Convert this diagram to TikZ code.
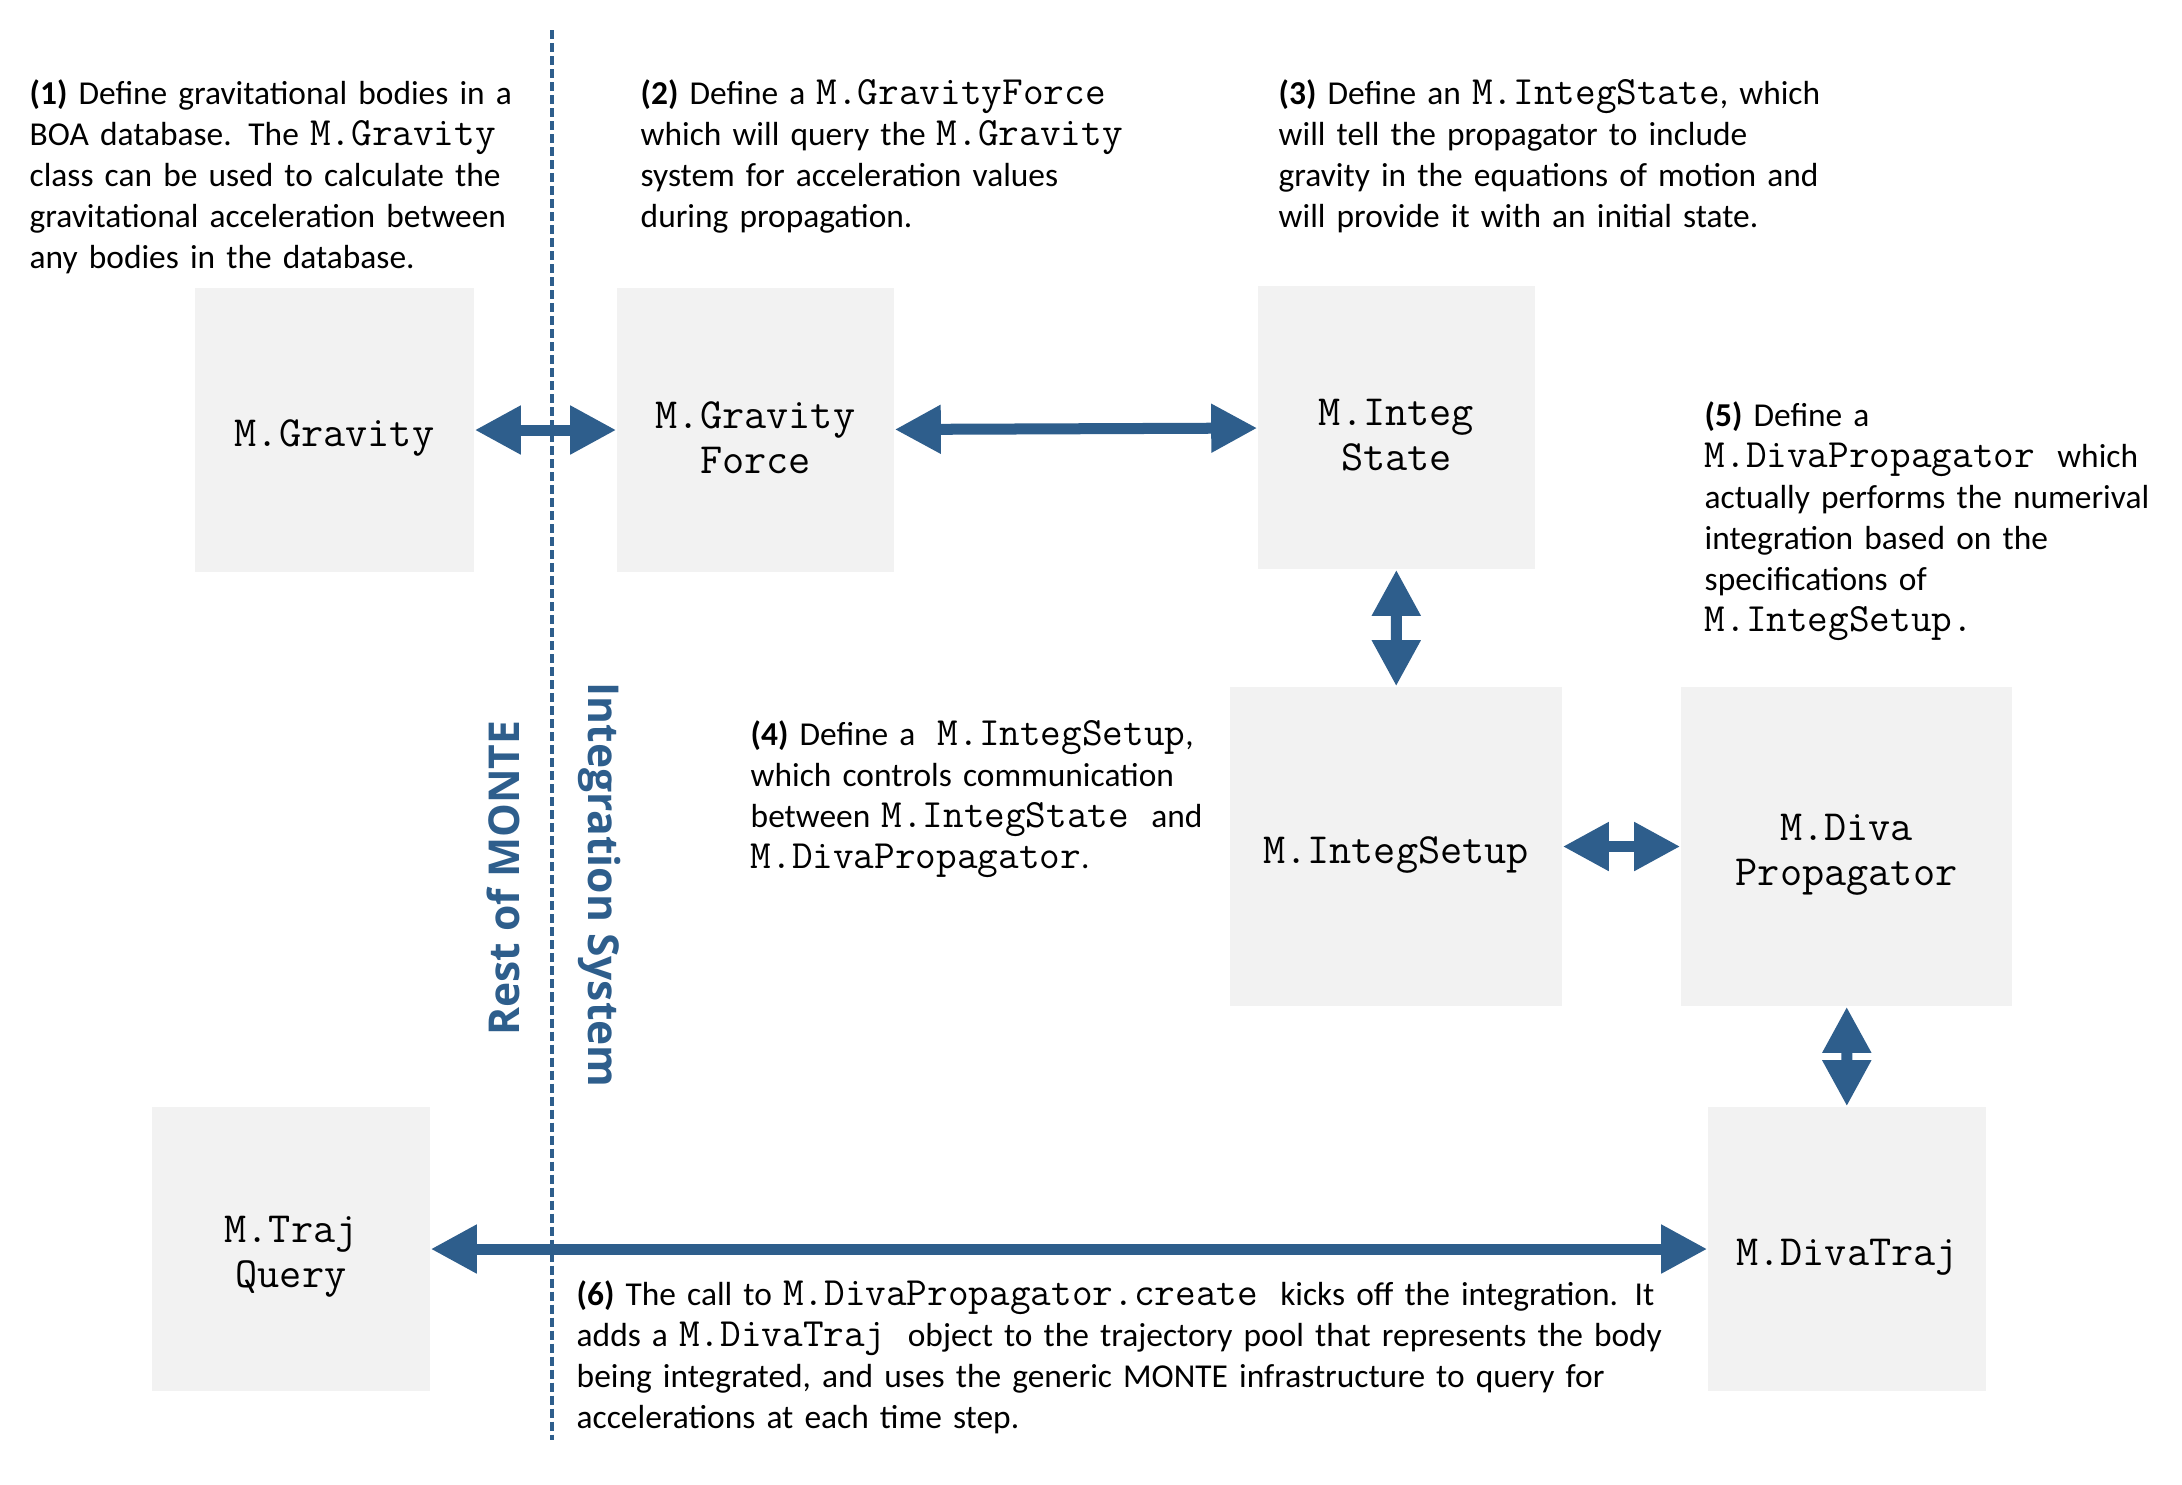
\documentclass[tikz,border=0pt]{standalone}
\usepackage{fontspec}
\setmainfont{Carlito}
\setmonofont{Latin Modern Mono}[Scale=1.2]
\newfontfamily\labelf{Open Sans}
\usetikzlibrary{arrows.meta}
\definecolor{arrowblue}{HTML}{2E5E8C}
\definecolor{boxgray}{HTML}{F2F2F2}
\newcommand\cd[1]{{\ttfamily #1}}
\begin{document}
\begin{tikzpicture}[x=0.01cm,y=-0.01cm,
  box/.style={fill=boxgray, draw=none, inner sep=0pt},
  boxtext/.style={align=center, inner sep=0pt, yshift=-0.08cm, font=\ttfamily\fontsize{10.2}{12.8}\selectfont},
  note/.style={anchor=base west, inner sep=0pt, align=left, text width=12cm, font=\fontsize{9.5}{11.7}\selectfont},
  biarrow/.style={draw=arrowblue, line width=0.11cm, {Triangle[length=0.46cm,width=0.46cm]}-{Triangle[length=0.46cm,width=0.46cm]}},
  divider/.style={draw=arrowblue, line width=0.032cm, dash pattern=on 0.09cm off 0.04cm},
  side/.style={text=arrowblue, font=\labelf\bfseries\fontsize{12.1}{15}\selectfont, inner sep=0pt, anchor=base}
]
\useasboundingbox (0,0) rectangle (2182,1484);

% boxes
\node[box, minimum width=2.79cm, minimum height=2.84cm, label={[boxtext]center:M.Gravity}] (grav) at (334.5,430) {};
\node[box, minimum width=2.77cm, minimum height=2.84cm, label={[boxtext]center:M.Gravity\\Force}] (force) at (755.5,430) {};
\node[box, minimum width=2.77cm, minimum height=2.83cm, label={[boxtext]center:M.Integ\\State}] (istate) at (1396.5,427.5) {};
\node[box, minimum width=3.32cm, minimum height=3.19cm, label={[boxtext]center:M.IntegSetup}] (isetup) at (1396,846.5) {};
\node[box, minimum width=3.31cm, minimum height=3.19cm, label={[boxtext]center:M.Diva\\Propagator}] (diva) at (1846.5,846.5) {};
\node[box, minimum width=2.78cm, minimum height=2.84cm, label={[boxtext]center:M.Traj\\Query}] (tquery) at (291,1249) {};
\node[box, minimum width=2.78cm, minimum height=2.84cm, label={[boxtext]center:M.DivaTraj}] (dtraj) at (1847,1249) {};

% divider
\coordinate (dtop) at (552,30);
\coordinate (dbot) at (552,1440);
\draw[divider] (dtop) -- (dbot);

% arrows
\draw[biarrow] (grav) -- (force);
\draw[biarrow] (force) -- (istate);
\draw[biarrow] (istate) -- (isetup);
\draw[biarrow] (isetup) -- (diva);
\draw[biarrow] (diva) -- (dtraj);
\draw[biarrow] (tquery) -- (dtraj);

% side labels
\node[side, rotate=90] (rest) at (519,878) {Rest of MONTE};
\node[side, rotate=-90] (integ) at (588,885) {Integration System};

% notes
\node[note] (t1) at (29,104) {\textbf{(1)} Define gravitational bodies in a\\BOA database. The \cd{M.Gravity}\\class can be used to calculate the\\gravitational acceleration between\\any bodies in the database.};
\node[note] (t2) at (640,104) {\textbf{(2)} Define a \cd{M.GravityForce}\\which will query the \cd{M.Gravity}\\system for acceleration values\\during propagation.};
\node[note] (t3) at (1278,104) {\textbf{(3)} Define an \cd{M.IntegState}, which\\will tell the propagator to include\\gravity in the equations of motion and\\will provide it with an initial state.};
\node[note] (t4) at (750,745) {\textbf{(4)} Define a\ \ \cd{M.IntegSetup},\\which controls communication\\between \cd{M.IntegState}\ \ and\\\cd{M.DivaPropagator}.};
\node[note] (t5) at (1704,426) {\textbf{(5)} Define a\\\cd{M.DivaPropagator}\ \ which\\actually performs the numerival\\integration based on the\\specifications of\\\cd{M.IntegSetup.}};
\node[note] (t6) at (576,1305) {\textbf{(6)} The call to \cd{M.DivaPropagator.create}\ \ kicks off the integration. It\\adds a \cd{M.DivaTraj}\ \ object to the trajectory pool that represents the body\\being integrated, and uses the generic MONTE infrastructure to query for\\accelerations at each time step.};
\end{tikzpicture}
\end{document}
